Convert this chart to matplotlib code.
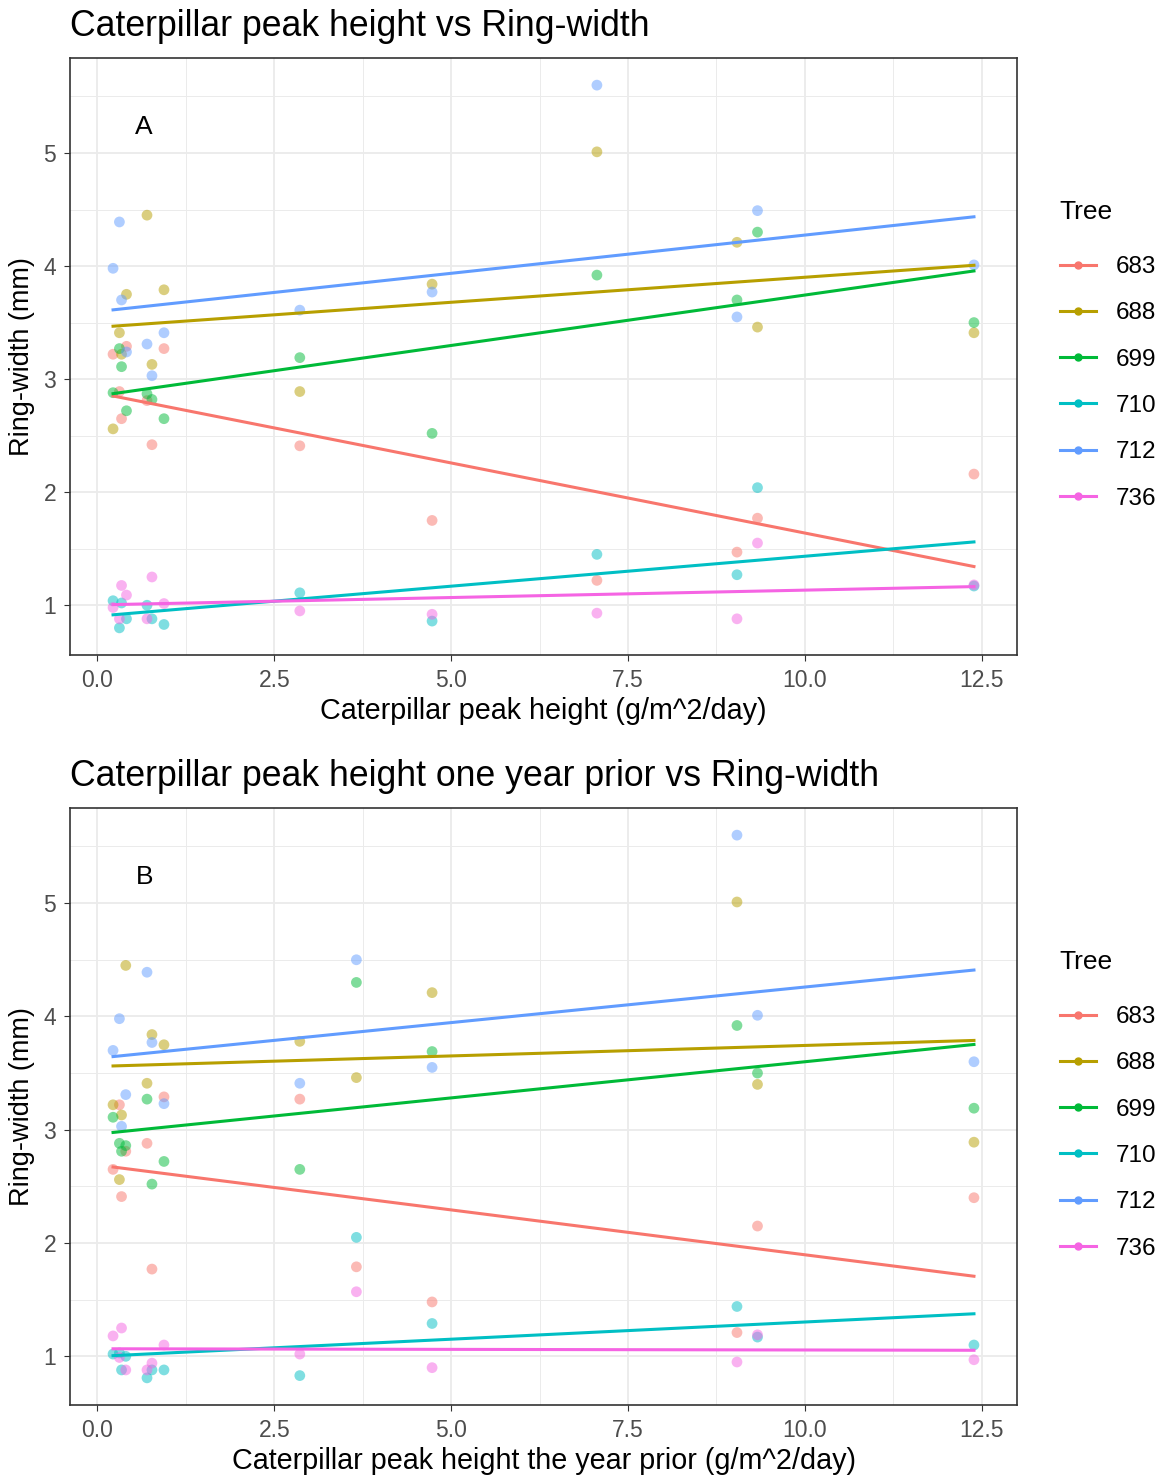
import numpy as np
import matplotlib
matplotlib.use('Agg')
import matplotlib.pyplot as plt
from matplotlib.ticker import MultipleLocator

plt.rcParams['font.family'] = ['Liberation Sans', 'DejaVu Sans']

trees = ['683', '688', '699', '710', '712', '736']
colors = ['#F8766D', '#B79F00', '#00BA38', '#00BFC4', '#619CFF', '#F564E3']

# Panel A: peak height in the same year
peak_a = [0.22, 0.31, 0.34, 0.41, 0.70, 0.77, 0.94, 2.86, 4.73, 7.06, 9.04, 9.33, 12.39]
ring_a = [
    [3.22, 2.89, 2.65, 3.29, 2.81, 2.42, 3.27, 2.41, 1.75, 1.22, 1.47, 1.77, 2.16],
    [2.56, 3.41, 3.22, 3.75, 4.45, 3.13, 3.79, 2.89, 3.84, 5.01, 4.21, 3.46, 3.41],
    [2.88, 3.27, 3.11, 2.72, 2.87, 2.82, 2.65, 3.19, 2.52, 3.92, 3.70, 4.30, 3.50],
    [1.04, 0.80, 1.02, 0.88, 1.00, 0.88, 0.83, 1.11, 0.86, 1.45, 1.27, 2.04, 1.17],
    [3.98, 4.39, 3.70, 3.24, 3.31, 3.03, 3.41, 3.61, 3.77, 5.60, 3.55, 4.49, 4.01],
    [0.98, 0.88, 1.175, 1.09, 0.88, 1.25, 1.015, 0.95, 0.92, 0.93, 0.88, 1.55, 1.18],
]

# Panel B: peak height one year prior
peak_b = [0.22, 0.31, 0.34, 0.40, 0.70, 0.77, 0.94, 2.86, 3.66, 4.73, 9.04, 9.33, 12.39]
ring_b = [
    [2.65, 3.22, 2.41, 2.81, 2.88, 1.77, 3.29, 3.27, 1.79, 1.48, 1.21, 2.15, 2.40],
    [3.22, 2.56, 3.13, 4.45, 3.41, 3.84, 3.75, 3.78, 3.46, 4.21, 5.01, 3.40, 2.89],
    [3.11, 2.88, 2.81, 2.86, 3.27, 2.52, 2.72, 2.65, 4.30, 3.69, 3.92, 3.50, 3.19],
    [1.02, 1.03, 0.88, 1.00, 0.81, 0.88, 0.88, 0.83, 2.05, 1.29, 1.44, 1.17, 1.10],
    [3.70, 3.98, 3.03, 3.31, 4.39, 3.77, 3.23, 3.41, 4.50, 3.55, 5.60, 4.01, 3.60],
    [1.18, 0.99, 1.25, 0.88, 0.88, 0.94, 1.10, 1.02, 1.57, 0.90, 0.95, 1.19, 0.97],
]

panels = [
    (peak_a, ring_a, 'A', 'Caterpillar peak height vs Ring-width',
     'Caterpillar peak height (g/m^2/day)'),
    (peak_b, ring_b, 'B', 'Caterpillar peak height one year prior vs Ring-width',
     'Caterpillar peak height the year prior (g/m^2/day)'),
]

fig = plt.figure(figsize=(11.7, 14.82), dpi=100)
W, H = 1170, 1482
axes_px = [(70, 58, 1017, 655), (70, 808, 1017, 1405)]

for (x, rings, tag, title, xlabel), (l, t, r, b) in zip(panels, axes_px):
    ax = fig.add_axes([l / W, 1 - b / H, (r - l) / W, (b - t) / H])
    x = np.array(x)
    for tree, ys, c in zip(trees, rings, colors):
        ys = np.array(ys)
        ax.scatter(x, ys, s=60, color=c, alpha=0.5, edgecolors='none', zorder=3)
        # linear fit, like geom_smooth(method = "lm", se = FALSE)
        k, m = np.polyfit(x, ys, 1)
        xx = np.array([x.min(), x.max()])
        ax.plot(xx, k * xx + m, color=c, lw=2.2, zorder=4)

    allv = np.concatenate([np.array(v) for v in rings])
    xr = x.max() - x.min()
    yr = allv.max() - allv.min()
    ax.set_xlim(x.min() - 0.05 * xr, x.max() + 0.05 * xr)
    ax.set_ylim(allv.min() - 0.05 * yr, allv.max() + 0.05 * yr)

    ax.xaxis.set_major_locator(MultipleLocator(2.5))
    ax.xaxis.set_minor_locator(MultipleLocator(1.25))
    ax.yaxis.set_major_locator(MultipleLocator(1))
    ax.yaxis.set_minor_locator(MultipleLocator(0.5))
    ax.xaxis.set_major_formatter(plt.FuncFormatter(lambda v, p: f'{v:.1f}'))
    ax.grid(which='major', color='#EBEBEB', lw=1.3)
    ax.grid(which='minor', color='#EBEBEB', lw=0.7)
    ax.set_axisbelow(True)
    for s in ax.spines.values():
        s.set_color('#333333')
        s.set_linewidth(1.2)
    ax.tick_params(which='major', length=4, color='#333333', labelsize=16.5,
                   labelcolor='#4D4D4D', pad=6)
    ax.tick_params(which='minor', length=0)

    ax.text(0.66, 5.23, tag, fontsize=19, ha='center', va='center')
    ax.set_title(title, loc='left', fontsize=25.7, pad=16)
    ax.set_xlabel(xlabel, fontsize=20.7, labelpad=4)
    ax.set_ylabel('Ring-width (mm)', fontsize=19.5, labelpad=6)

    handles = [plt.Line2D([], [], color=c, lw=2.2, marker='o', markersize=5)
               for c in colors]
    leg = ax.legend(handles, trees, title='Tree', loc='upper left',
                    bbox_to_anchor=(1.045, 0.762), frameon=False, fontsize=17.5,
                    title_fontsize=19, labelspacing=1.0, handlelength=1.5,
                    handletextpad=0.8, borderpad=0, borderaxespad=0,
                    alignment='left')
    # a bit more room between "Tree" and the first key
    leg._legend_box.sep = 23

fig.savefig('out.png', dpi=100)
